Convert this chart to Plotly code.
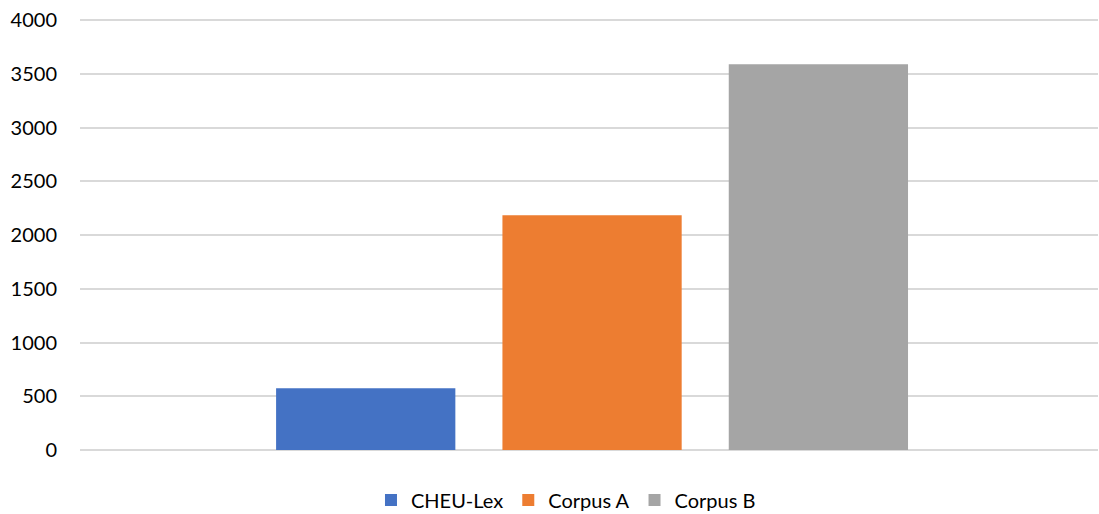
import plotly.graph_objects as go

# Series and their values
series = ["CHEU-Lex", "Corpus A", "Corpus B"]
values = [574, 2185, 3590]
colors = ["#4472C4", "#ED7D31", "#A5A5A5"]
category = ["Total"]

# Y-axis ticks
y_ticks = [0, 500, 1000, 1500, 2000, 2500, 3000, 3500, 4000]

fig = go.Figure()
for name, val, col in zip(series, values, colors):
    fig.add_trace(go.Bar(
        x=category, y=[val], name=name,
        marker=dict(color=col, line=dict(width=0)),
    ))

fig.update_layout(
    width=1099, height=514,
    margin=dict(l=80, r=1, t=19, b=64, autoexpand=False),
    paper_bgcolor="white", plot_bgcolor="white",
    barmode="group", bargap=0.333, bargroupgap=0.208,
    font=dict(family="Lato, Carlito, Calibri, sans-serif", color="#000000"),
    showlegend=True,
    legend=dict(
        orientation="h", xref="container", yref="container",
        x=0.515, xanchor="center", y=0.027, yanchor="middle",
        font=dict(size=20, color="#000000"), itemwidth=30,
        traceorder="normal",
    ),
    xaxis=dict(showticklabels=False, showgrid=False, zeroline=False,
               showline=False, ticks="", range=[-0.503, 0.497]),
    yaxis=dict(
        range=[0, 4010], tickvals=y_ticks,
        showgrid=True, gridcolor="#d9d9d9", gridwidth=1.5,
        zeroline=True, zerolinecolor="#d9d9d9", zerolinewidth=1.5,
        showline=False, ticks="outside", ticklen=18, tickcolor="rgba(0,0,0,0)",
        tickfont=dict(size=20, color="#000000"),
    ),
)

fig.write_html("out.html")
